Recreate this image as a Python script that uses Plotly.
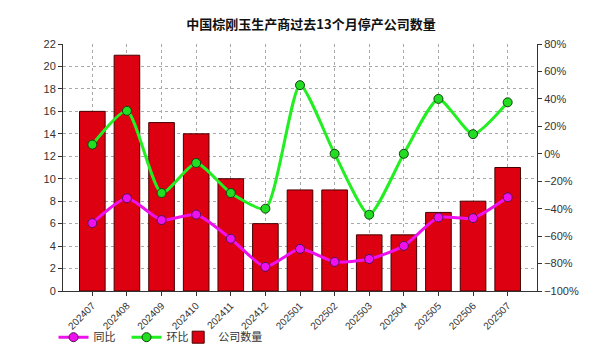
import plotly.graph_objects as go

months = ["202407", "202408", "202409", "202410", "202411", "202412", "202501",
          "202502", "202503", "202504", "202505", "202506", "202507"]
companies = [16, 21, 15, 14, 10, 6, 9, 9, 5, 5, 7, 8, 11]
yoy = [-50.5, -32.4, -48.3, -44.3, -61.9, -82.4, -69.3, -78.8, -76.7, -67.1, -46.4, -46.9, -31.7]
mom = [6.7, 31.3, -28.6, -6.7, -28.6, -40.0, 50.0, 0.0, -44.4, 0.0, 40.0, 14.3, 37.5]

font_family = "Liberation Sans, Arial, Noto Sans CJK SC, sans-serif"

fig = go.Figure()
fig.add_trace(go.Bar(
    x=months, y=companies, name="公司数量", legend="legend2",
    marker=dict(color="#dd0011", line=dict(color="#440000", width=1)),
    width=0.74,
))
fig.add_trace(go.Scatter(
    x=months, y=yoy, name="同比", yaxis="y2", mode="lines+markers", legendrank=1,
    line=dict(color="#ee11ee", width=3, shape="spline", smoothing=0.6),
    marker=dict(size=9, color="#ee11ee", line=dict(color="#551155", width=1)),
))
fig.add_trace(go.Scatter(
    x=months, y=mom, name="环比", yaxis="y2", mode="lines+markers", legendrank=2,
    line=dict(color="#22ee22", width=3, shape="spline", smoothing=0.6),
    marker=dict(size=9, color="#22dd22", line=dict(color="#114411", width=1)),
))

legend_common = dict(orientation="h", xanchor="left", y=-0.187, yanchor="middle",
                     font=dict(size=11, color="#333333"), itemwidth=30,
                     bgcolor="rgba(0,0,0,0)")

fig.update_layout(
    width=606, height=356,
    margin=dict(l=55, r=77, t=36, b=68),
    paper_bgcolor="white", plot_bgcolor="white",
    font=dict(family=font_family, size=11, color="#333333"),
    title=dict(text="<b>中国棕刚玉生产商过去13个月停产公司数量</b>",
               x=0.5, xanchor="center", y=0.955, yanchor="middle",
               font=dict(family="Noto Sans CJK SC, sans-serif", size=13, color="#111111")),
    showlegend=True,
    legend=dict(x=-0.02, entrywidth=28, **legend_common),
    legend2=dict(x=0.243, **legend_common),
    xaxis=dict(tickangle=-45, showline=True, linecolor="#333333", linewidth=1,
               showgrid=True, gridcolor="#aaaaaa", griddash="dot", gridwidth=1,
               ticks="outside", ticklen=4, tickcolor="#333333",
               tickfont=dict(size=10, color="#333333")),
    yaxis=dict(range=[0, 22], dtick=2, showline=True, linecolor="#333333", linewidth=1,
               showgrid=True, gridcolor="#aaaaaa", griddash="dot", gridwidth=1,
               ticks="outside", ticklen=4, tickcolor="#333333", zeroline=False,
               tickfont=dict(size=11, color="#333333")),
    yaxis2=dict(range=[-100, 80], dtick=20, overlaying="y", side="right",
                ticksuffix="%", showline=True, linecolor="#333333", linewidth=1,
                showgrid=False, zeroline=False, ticks="outside", ticklen=4,
                tickcolor="#333333", tickfont=dict(size=11, color="#333333")),
)

fig.write_html("out.html")
